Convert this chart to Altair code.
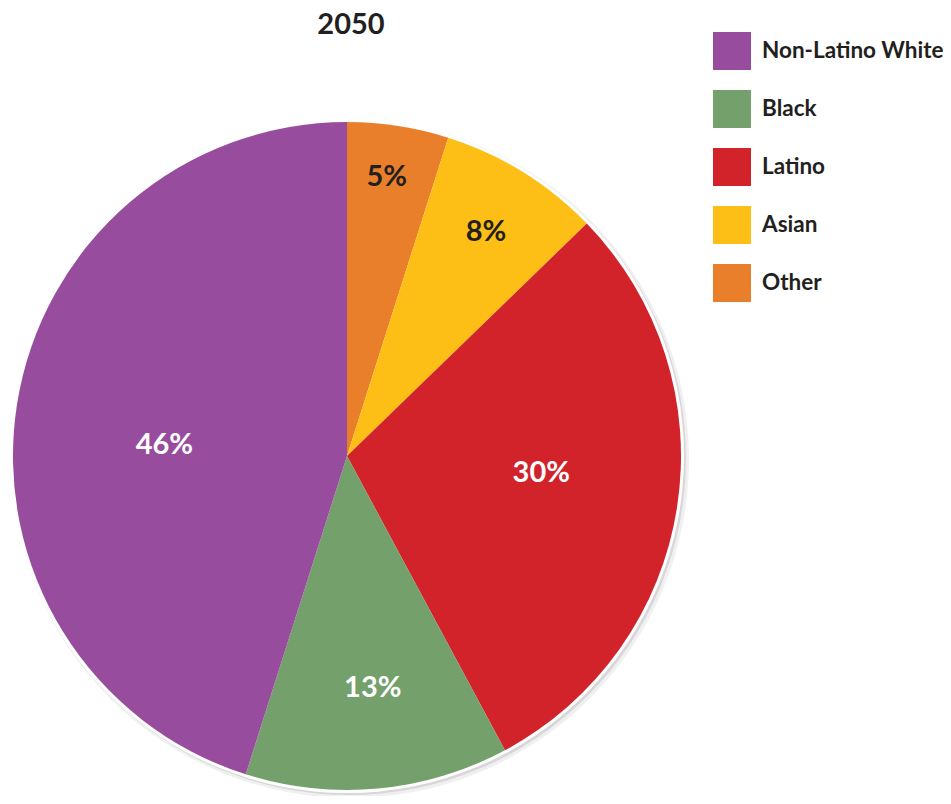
import altair as alt
import pandas as pd

# data
groups = ["Other", "Asian", "Latino", "Black", "Non-Latino White"]
shares = [5, 8, 30, 13, 46]
labels = ["5%", "8%", "30%", "13%", "46%"]
legend_order = ["Non-Latino White", "Black", "Latino", "Asian", "Other"]
colors = ["#984C9D", "#74A06B", "#D2232A", "#FDBF16", "#E97F2B"]

total = sum(shares)
df = pd.DataFrame({"group": groups, "share": shares, "label": labels,
                   "order": list(range(len(groups)))})
full = pd.DataFrame({"v": [total]})

CX, CY, R = 339, 448, 334
FONT = "Lato"
tscale = alt.Scale(domain=[0, total])

center = dict(x=alt.value(CX), y=alt.value(CY))

shadow = alt.Chart(full).mark_arc(radius=R + 5, color="#000000", opacity=0.06).encode(
    theta=alt.Theta("v:Q", scale=tscale), x=alt.value(CX + 3), y=alt.value(CY + 3))
shadow2 = alt.Chart(full).mark_arc(radius=R + 3, color="#000000", opacity=0.10).encode(
    theta=alt.Theta("v:Q", scale=tscale), x=alt.value(CX + 2), y=alt.value(CY + 2))
rim = alt.Chart(full).mark_arc(radius=R + 3, color="#FFFFFF").encode(
    theta=alt.Theta("v:Q", scale=tscale), **center)

pie = alt.Chart(df).mark_arc(radius=R, strokeWidth=0).encode(
    theta=alt.Theta("share:Q", stack=True, scale=tscale),
    order=alt.Order("order:Q"),
    color=alt.Color("group:N",
                    scale=alt.Scale(domain=legend_order, range=colors),
                    legend=alt.Legend(orient="none", legendX=705, legendY=24,
                                      title=None, symbolType="square",
                                      symbolSize=1444, symbolStrokeWidth=0,
                                      symbolOpacity=1,
                                      labelFont=FONT, labelFontSize=22.5,
                                      labelFontWeight="bold", labelColor="#231F20",
                                      rowPadding=20, labelOffset=11, labelLimit=300)),
    **center)

# label placement (style): radial distance and small angular nudge per slice
text = alt.Chart(df).transform_window(
    cum="sum(share)", sort=[alt.SortField("order")], frame=[None, 0]
).transform_calculate(
    adj="datum.group == 'Non-Latino White' ? -1.5 : datum.group == 'Latino' ? -1.1 : "
        "datum.group == 'Black' ? -0.3 : datum.group == 'Asian' ? 0 : -0.2",
    mid="datum.cum - datum.share / 2 + datum.adj",
    lr="datum.group == 'Non-Latino White' ? 183 : datum.group == 'Latino' ? 195 : "
       "datum.group == 'Black' ? 233 : datum.group == 'Asian' ? 264 : 282",
    tc="datum.group == 'Asian' || datum.group == 'Other' ? '#231F20' : '#FFFFFF'"
).mark_text(font=FONT, fontSize=29, fontWeight="bold", baseline="middle", align="center").encode(
    theta=alt.Theta("mid:Q", scale=tscale, stack=None),
    radius=alt.Radius("lr:Q", scale=None),
    text="label:N",
    color=alt.Color("tc:N", scale=None),
    **center)

title = alt.Chart(full).mark_text(font=FONT, fontSize=29, fontWeight="bold",
                                  color="#231F20", align="center", baseline="alphabetic").encode(
    x=alt.value(343), y=alt.value(26), text=alt.value("2050"))

chart = alt.layer(shadow, shadow2, rim, pie, text, title).properties(
    width=935, height=788, padding=0,
    autosize=alt.AutoSizeParams(type="none")
).configure_view(stroke=None)

chart.save("out.html", embed_options={"renderer": "svg", "actions": False})
